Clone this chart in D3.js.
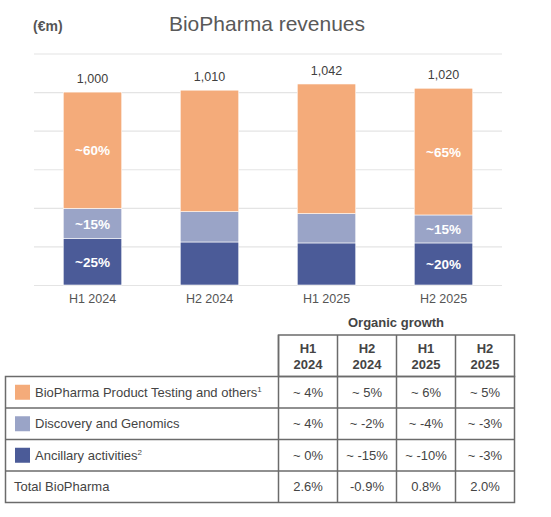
<!DOCTYPE html>
<html>
<head>
<meta charset="utf-8">
<script src="https://cdn.jsdelivr.net/npm/d3@7"></script>
<style>
  html, body { margin: 0; padding: 0; background: #fff; }
  svg { display: block; font-family: "Liberation Sans", Arial, sans-serif; }
</style>
</head>
<body>
<div id="chart"></div>
<script>
// chart data
const periods = ['H1 2024', 'H2 2024', 'H1 2025', 'H2 2025'];
const totals = [1000, 1010, 1042, 1020];
const ancillary = [240, 223, 218, 218];
const discovery = [157, 157, 152, 145];
const productTesting = [603, 630, 672, 657];
const yTicks = [0, 200, 400, 600, 800, 1000, 1200];

// in-bar share labels (blank where the source shows none)
const shareTesting = ['~60%', '', '', '~65%'];
const shareDiscovery = ['~15%', '', '', '~15%'];
const shareAncillary = ['~25%', '', '', '~20%'];

// organic growth table
const segmentNames = ['BioPharma Product Testing and others', 'Discovery and Genomics', 'Ancillary activities'];
const segmentNotes = ['1', '', '2'];
const headerTop = ['H1', 'H2', 'H1', 'H2'];
const headerBottom = ['2024', '2024', '2025', '2025'];
const growthTesting = ['~ 4%', '~ 5%', '~ 6%', '~ 5%'];
const growthDiscovery = ['~ 4%', '~ -2%', '~ -4%', '~ -3%'];
const growthAncillary = ['~ 0%', '~ -15%', '~ -10%', '~ -3%'];
const growthTotal = ['2.6%', '-0.9%', '0.8%', '2.0%'];

const colors = { testing: '#F4AB7A', discovery: '#9AA4C7', ancillary: '#4B5B98' };

const W = 551, H = 517;
const svg = d3.select('#chart').append('svg').attr('width', W).attr('height', H);

// header texts
svg.append('text').attr('x', 33).attr('y', 31)
  .attr('font-size', 14).attr('font-weight', 'bold').attr('fill', '#555')
  .text('(€m)');
svg.append('text').attr('x', 267).attr('y', 31).attr('text-anchor', 'middle')
  .attr('font-size', 21).attr('fill', '#595959')
  .text('BioPharma revenues');

// scales
const x = d3.scaleBand().domain(periods).range([34, 502]).paddingInner(0.5).paddingOuter(0.25);
const y = d3.scaleLinear().domain([0, 1200]).range([285, 53.5]);

// gridlines
const grid = svg.append('g').attr('transform', 'translate(34,0)')
  .call(d3.axisLeft(y).tickValues(yTicks).tickSize(-468).tickFormat(''));
grid.select('.domain').remove();
grid.selectAll('.tick line').attr('stroke', '#e4e4e4').attr('stroke-width', 1.2);

// stacked bars
const stackRows = periods.map((p, i) => ({
  period: p, ancillary: ancillary[i], discovery: discovery[i], testing: productTesting[i]
}));
const keys = ['ancillary', 'discovery', 'testing'];
const series = d3.stack().keys(keys)(stackRows);
const shareLabels = { testing: shareTesting, discovery: shareDiscovery, ancillary: shareAncillary };

const layers = svg.append('g').selectAll('g').data(series).join('g')
  .attr('fill', d => colors[d.key]);
layers.selectAll('rect').data(d => d).join('rect')
  .attr('x', d => x(d.data.period))
  .attr('width', x.bandwidth())
  .attr('y', d => y(d[1]))
  .attr('height', d => y(d[0]) - y(d[1]))
  .attr('stroke', '#fff').attr('stroke-width', 0.6);

series.forEach(s => {
  svg.append('g').selectAll('text').data(s).join('text')
    .attr('x', d => x(d.data.period) + x.bandwidth() / 2)
    .attr('y', d => (y(d[0]) + y(d[1])) / 2 + 5)
    .attr('text-anchor', 'middle')
    .attr('font-size', 13.5).attr('font-weight', 'bold').attr('fill', '#fff')
    .text((d, i) => shareLabels[s.key][i]);
});

// totals above bars
svg.append('g').selectAll('text').data(periods).join('text')
  .attr('x', p => x(p) + x.bandwidth() / 2)
  .attr('y', (p, i) => y(totals[i]) - 9)
  .attr('text-anchor', 'middle').attr('font-size', 12.5).attr('fill', '#404040')
  .text((p, i) => d3.format(',')(totals[i]));

// x axis labels
const xa = svg.append('g').attr('transform', 'translate(0,285)')
  .call(d3.axisBottom(x).tickSize(0).tickPadding(9));
xa.select('.domain').remove();
xa.selectAll('text').attr('font-size', 12.5).attr('fill', '#555')
  .attr('font-family', '"Liberation Sans", Arial, sans-serif');

// ---- table ----
const colEdges = [278.5, 337.5, 396.5, 455.5, 514.5];
const rowEdges = [376.5, 408, 439.5, 471, 502.5];
const lineColor = '#6b6b6b';
const tbl = svg.append('g');

tbl.append('text').attr('x', 396).attr('y', 327).attr('text-anchor', 'middle')
  .attr('font-size', 13).attr('font-weight', 'bold').attr('fill', '#444')
  .text('Organic growth');

// header box
tbl.append('rect').attr('x', colEdges[0]).attr('y', 335).attr('width', colEdges[4] - colEdges[0])
  .attr('height', rowEdges[0] - 335).attr('fill', 'none').attr('stroke', lineColor).attr('stroke-width', 1.5);
// body box
tbl.append('rect').attr('x', 5.5).attr('y', rowEdges[0]).attr('width', colEdges[4] - 5.5)
  .attr('height', rowEdges[4] - rowEdges[0]).attr('fill', 'none').attr('stroke', lineColor).attr('stroke-width', 1.5);
// inner horizontal lines
rowEdges.slice(1, 4).forEach(ry => {
  tbl.append('line').attr('x1', 5.5).attr('x2', colEdges[4]).attr('y1', ry).attr('y2', ry)
    .attr('stroke', lineColor).attr('stroke-width', 1.5);
});
// vertical lines
colEdges.slice(0, 4).forEach(cx => {
  tbl.append('line').attr('x1', cx).attr('x2', cx).attr('y1', 335).attr('y2', rowEdges[4])
    .attr('stroke', lineColor).attr('stroke-width', 1.5);
});

const colCenter = i => (colEdges[i] + colEdges[i + 1]) / 2;

headerTop.forEach((t, i) => {
  const tx = tbl.append('text').attr('text-anchor', 'middle').attr('font-size', 13)
    .attr('font-weight', 'bold').attr('fill', '#444');
  tx.append('tspan').attr('x', colCenter(i)).attr('y', 353).text(t);
  tx.append('tspan').attr('x', colCenter(i)).attr('y', 369).text(headerBottom[i]);
});

const bodyRows = [growthTesting, growthDiscovery, growthAncillary, growthTotal];
const segColors = [colors.testing, colors.discovery, colors.ancillary];

bodyRows.forEach((vals, r) => {
  const cy = (rowEdges[r] + rowEdges[r + 1]) / 2;
  if (r < 3) {
    tbl.append('rect').attr('x', 15).attr('y', cy - 7.5).attr('width', 15).attr('height', 15)
      .attr('fill', segColors[r]);
    const lt = tbl.append('text').attr('x', 35).attr('y', cy + 4.5)
      .attr('font-size', 13).attr('fill', '#444').text(segmentNames[r]);
    if (segmentNotes[r]) {
      lt.append('tspan').attr('font-size', 8).attr('dy', -5).text(segmentNotes[r]);
    }
  } else {
    tbl.append('text').attr('x', 14).attr('y', cy + 4.5)
      .attr('font-size', 13).attr('fill', '#444').text('Total BioPharma');
  }
  vals.forEach((v, i) => {
    tbl.append('text').attr('x', colCenter(i)).attr('y', cy + 4.5).attr('text-anchor', 'middle')
      .attr('font-size', 13).attr('fill', '#444').text(v);
  });
});
</script>
</body>
</html>
